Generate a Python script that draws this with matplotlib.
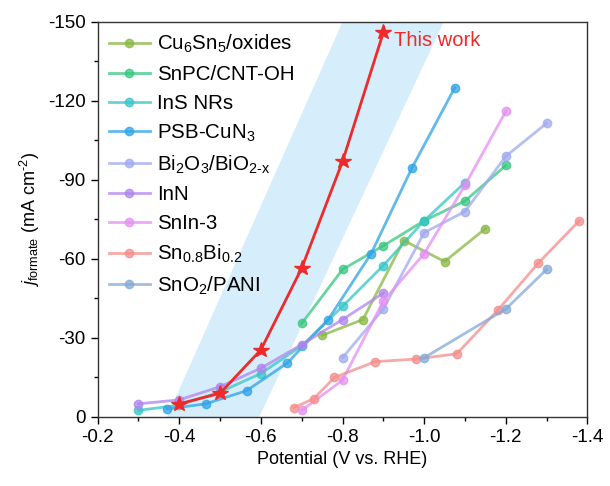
import matplotlib
matplotlib.use("Agg")
import matplotlib.pyplot as plt
from matplotlib.patches import Polygon
from matplotlib.ticker import MultipleLocator

plt.rcParams['font.family'] = ['Liberation Sans', 'DejaVu Sans']
plt.rcParams['mathtext.fontset'] = 'custom'
plt.rcParams['mathtext.rm'] = 'Liberation Sans'
plt.rcParams['mathtext.it'] = 'Liberation Sans:italic'
plt.rcParams['axes.unicode_minus'] = False

# literature data: potential (V vs. RHE) and formate partial current (mA cm-2)
cu6sn5_v = [-0.75, -0.85, -0.95, -1.05, -1.15]
cu6sn5_j = [-31, -37, -67, -59, -71.5]

snpc_v = [-0.7, -0.8, -0.9, -1.0, -1.1, -1.2]
snpc_j = [-35.5, -56, -65, -74.5, -82, -95.5]

ins_v = [-0.3, -0.4, -0.5, -0.6, -0.7, -0.8, -0.9, -1.0, -1.1]
ins_j = [-2.5, -4.5, -9.5, -16.5, -27, -42, -57.5, -74.5, -89]

psb_v = [-0.37, -0.465, -0.565, -0.665, -0.765, -0.87, -0.97, -1.075]
psb_j = [-3, -5, -10, -20.5, -37, -62, -94.5, -125]

bi2o3_v = [-0.8, -0.9, -1.0, -1.1, -1.2, -1.3]
bi2o3_j = [-22.5, -41, -70, -78, -99, -111.5]

inn_v = [-0.3, -0.4, -0.5, -0.6, -0.7, -0.8, -0.9]
inn_j = [-5, -6.5, -11.5, -18.5, -27.5, -37, -47]

snin_v = [-0.7, -0.8, -0.9, -1.0, -1.1, -1.2]
snin_j = [-2.5, -14, -44, -62, -88, -116]

snbi_v = [-0.68, -0.73, -0.78, -0.88, -0.98, -1.08, -1.18, -1.28, -1.38]
snbi_j = [-3.5, -7, -15, -21, -22, -24, -40.5, -58.5, -74.5]

sno2_v = [-1.0, -1.2, -1.3]
sno2_j = [-22.5, -41, -56]

# this work
tw_v = [-0.4, -0.5, -0.6, -0.7, -0.8, -0.9]
tw_j = [-5, -9, -25.5, -56.5, -97, -146]

series = [
    (r'Cu$_6$Sn$_5$/oxides', cu6sn5_v, cu6sn5_j, '#86b842'),
    ('SnPC/CNT-OH', snpc_v, snpc_j, '#35c77e'),
    ('InS NRs', ins_v, ins_j, '#33c6c6'),
    (r'PSB-CuN$_3$', psb_v, psb_j, '#2ea3e6'),
    (r'Bi$_2$O$_3$/BiO$_{\text{2-x}}$', bi2o3_v, bi2o3_j, '#9ea9f0'),
    ('InN', inn_v, inn_j, '#b183ee'),
    ('SnIn-3', snin_v, snin_j, '#e58ef2'),
    (r'Sn$_{0.8}$Bi$_{0.2}$', snbi_v, snbi_j, '#f58c8a'),
    (r'SnO$_2$/PANI', sno2_v, sno2_j, '#83a8d8'),
]

fig = plt.figure(figsize=(6.1, 4.86), dpi=100)
ax = fig.add_axes([0.16, 0.142, 0.803, 0.813])

# shaded band behind the curves
band = Polygon([(-0.37, 0), (-0.596, 0), (-1.048, -150), (-0.80, -150)],
               closed=True, facecolor='#d6eefb', edgecolor='none', zorder=0)
ax.add_patch(band)

for name, v, j, c in series:
    ax.plot(v, j, '-o', color=c, lw=2, ms=6, alpha=0.75,
            mec=c, mfc=c, label=name, zorder=2)

ax.plot(tw_v, tw_j, '-*', color='#ee2a2a', lw=2, ms=11.5, zorder=4)
ax.text(-0.925, -143, 'This work', color='#ee2a2a', fontsize=14.5,
        ha='left', va='center')

ax.set_xlim(-0.2, -1.4)
ax.set_ylim(0, -150)
ax.xaxis.set_major_locator(MultipleLocator(0.2))
ax.xaxis.set_minor_locator(MultipleLocator(0.1))
ax.yaxis.set_major_locator(MultipleLocator(30))
ax.yaxis.set_minor_locator(MultipleLocator(15))
ax.tick_params(which='both', direction='out', top=False, right=False,
               labelsize=13.5, width=1)
ax.tick_params(which='major', length=5)
ax.tick_params(which='minor', length=3)
ax.xaxis.set_major_formatter(matplotlib.ticker.FuncFormatter(lambda x, p: f'{x:.1f}'))
for s in ax.spines.values():
    s.set_linewidth(1)
    s.set_color('#333333')

ax.set_xlabel('Potential (V vs. RHE)', fontsize=13)
ax.set_ylabel(r'$j_{\mathrm{formate}}$ (mA cm$^{\text{-2}}$)', fontsize=13)

ax.legend(loc='upper left', frameon=False, fontsize=14.8, handlelength=2.0,
          labelspacing=0.47, borderaxespad=0.2, borderpad=0.35,
          handletextpad=0.35)

fig.savefig('out.png', dpi=100)
